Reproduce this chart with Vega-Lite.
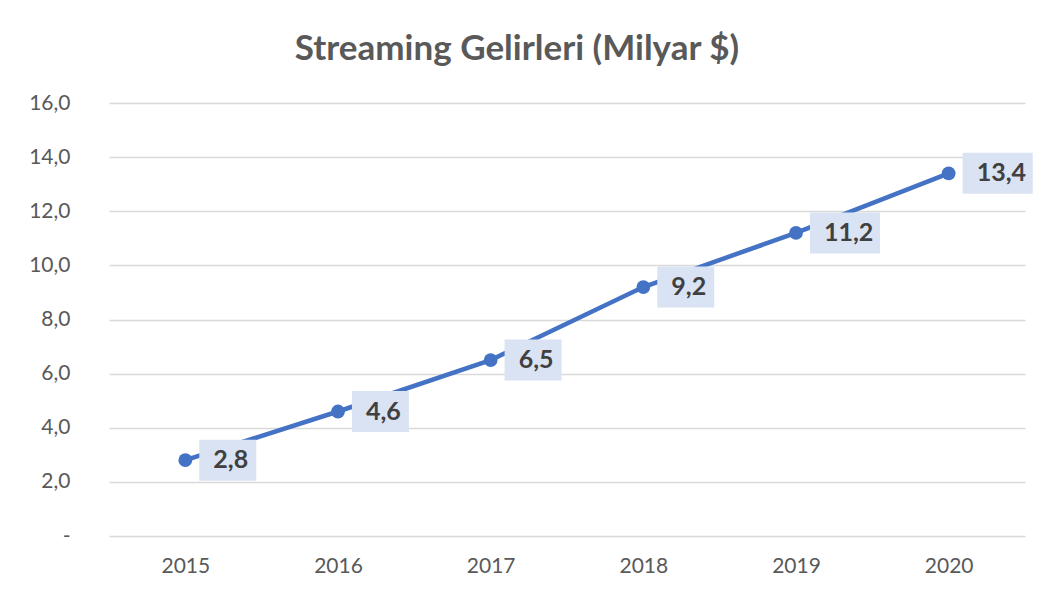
{
  "$schema": "https://vega.github.io/schema/vega-lite/v6.json",
  "autosize": {"type": "none"},
  "width": 916,
  "height": 433,
  "padding": {"left": 109, "top": 103, "right": 17, "bottom": 58},
  "background": "#ffffff",
  "config": {
    "view": {"stroke": null},
    "locale": {"number": {"decimal": ",", "thousands": ".", "grouping": [3], "currency": ["", " $"]}},
    "font": "Lato"
  },
  "title": {
    "text": "Streaming Gelirleri (Milyar $)",
    "font": "Lato",
    "fontSize": 35,
    "fontWeight": "bold",
    "color": "#595959",
    "anchor": "middle",
    "dx": -50,
    "offset": 25
  },
  "data": {
    "values": [
      {"year": "2015", "value": 2.8},
      {"year": "2016", "value": 4.6},
      {"year": "2017", "value": 6.5},
      {"year": "2018", "value": 9.2},
      {"year": "2019", "value": 11.2},
      {"year": "2020", "value": 13.4}
    ]
  },
  "encoding": {
    "x": {
      "field": "year",
      "type": "ordinal",
      "scale": {"type": "point", "padding": 0.5},
      "axis": {
        "title": null,
        "labelAngle": 0,
        "domain": false,
        "ticks": false,
        "labelFont": "Lato",
        "labelFontSize": 21,
        "labelColor": "#595959",
        "labelPadding": 19
      }
    },
    "y": {
      "field": "value",
      "type": "quantitative",
      "scale": {"domain": [0, 16], "nice": false},
      "axis": {
        "title": null,
        "values": [0, 2, 4, 6, 8, 10, 12, 14, 16],
        "format": ".1f",
        "labelExpr": "datum.value == 0 ? '-\u00a0\u00a0\u00a0' : datum.label",
        "domain": false,
        "ticks": false,
        "grid": true,
        "gridColor": "#D9D9D9",
        "gridWidth": 1.5,
        "labelFont": "Lato",
        "labelFontSize": 21,
        "labelColor": "#595959",
        "labelPadding": 39
      }
    }
  },
  "layer": [
    {
      "mark": {"type": "line", "color": "#4472C4", "strokeWidth": 4.5}
    },
    {
      "mark": {"type": "point", "filled": true, "color": "#4472C4", "size": 190, "opacity": 1}
    },
    {
      "transform": [{"filter": "datum.value < 10"}],
      "mark": {
        "type": "point",
        "filled": true,
        "opacity": 1,
        "color": "#DAE3F3",
        "size": 1681,
        "shape": "M0.68,-1L3.46,-1L3.46,1L0.68,1Z"
      }
    },
    {
      "transform": [{"filter": "datum.value >= 10"}],
      "mark": {
        "type": "point",
        "filled": true,
        "opacity": 1,
        "color": "#DAE3F3",
        "size": 1681,
        "shape": "M0.68,-1L4.1,-1L4.1,1L0.68,1Z"
      }
    },
    {
      "mark": {
        "type": "text",
        "align": "left",
        "baseline": "middle",
        "dx": 28,
        "font": "Lato",
        "fontSize": 25,
        "fontWeight": "bold",
        "color": "#404040"
      },
      "encoding": {
        "text": {"field": "value", "type": "quantitative", "format": ".1f"}
      }
    }
  ]
}
